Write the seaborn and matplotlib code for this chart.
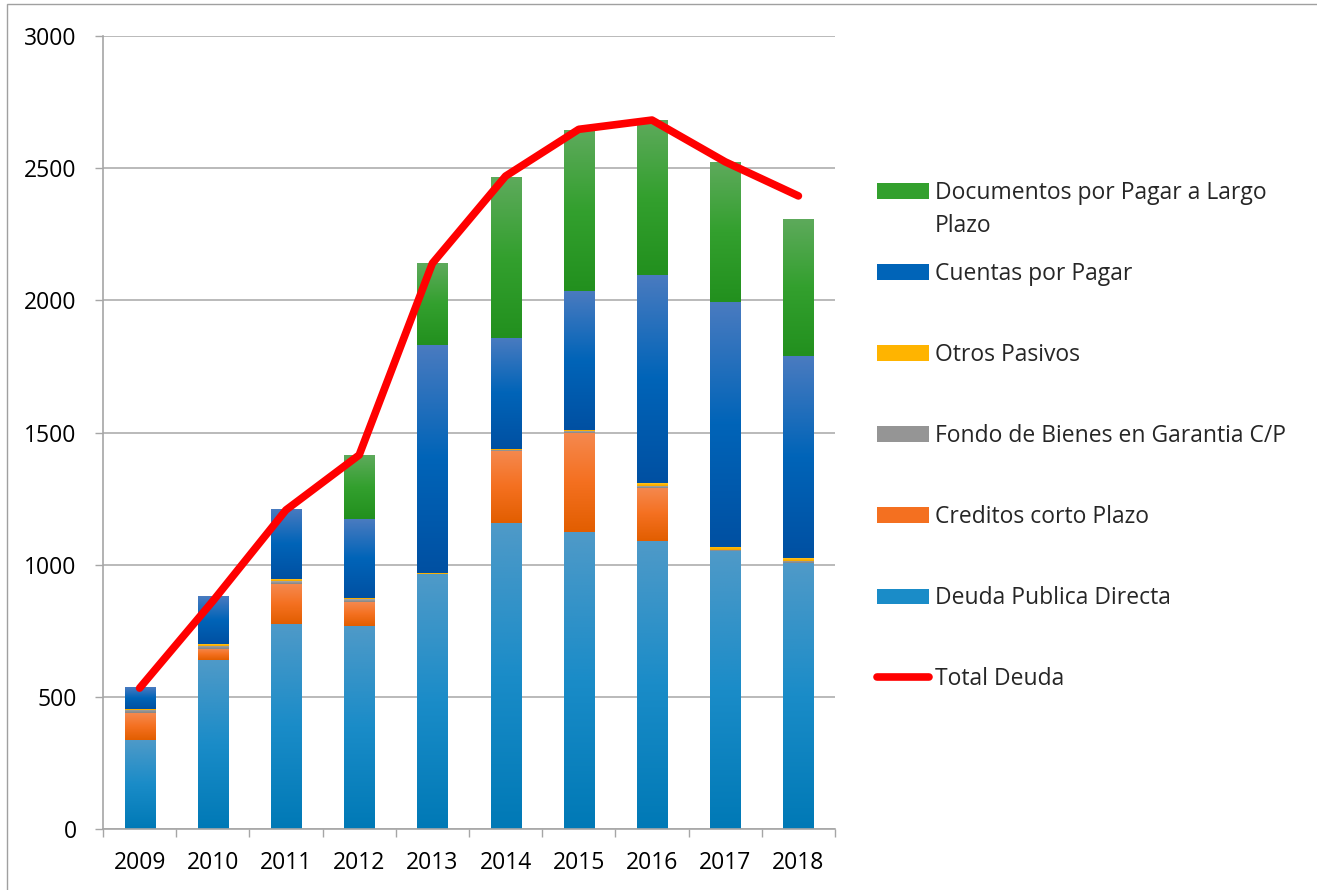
import numpy as np
import pandas as pd
import seaborn as sns
import matplotlib.pyplot as plt
from matplotlib.colors import LinearSegmentedColormap
from matplotlib.patches import Patch, Rectangle
from matplotlib.lines import Line2D

years = ['2009', '2010', '2011', '2012', '2013', '2014', '2015', '2016', '2017', '2018']
deuda_publica = [337, 639, 776, 769, 963, 1157, 1125, 1090, 1050, 1005]
creditos_cp = [100, 42, 151, 90, 0, 274, 375, 201, 0, 0]
fondo_bienes = [12, 12, 11, 11, 2, 3, 5, 6, 5, 9]
otros_pasivos = [6, 7, 7, 5, 3, 4, 6, 11, 12, 11]
cuentas_pagar = [82, 181, 266, 298, 863, 421, 524, 787, 927, 764]
documentos_lp = [0, 0, 0, 242, 310, 608, 609, 586, 528, 519]
total_deuda = [533, 862, 1207, 1415, 2140, 2470, 2647, 2682, 2524, 2395]

# stacking order bottom -> top, with (top, mid, bottom) gradient colors
series = [
    ('Deuda Publica Directa', deuda_publica, ('#4f9ac8', '#1a8cc8', '#0079b6')),
    ('Creditos corto Plazo', creditos_cp, ('#f5894f', '#f47020', '#e25e00')),
    ('Fondo de Bienes en Garantia C/P', fondo_bienes, ('#a8a8a8', '#959595', '#858585')),
    ('Otros Pasivos', otros_pasivos, ('#ffc526', '#ffb400', '#f2a600')),
    ('Cuentas por Pagar', cuentas_pagar, ('#4a7bc0', '#0064b8', '#0050a2')),
    ('Documentos por Pagar a Largo Plazo', documentos_lp, ('#5eaa5c', '#33a02e', '#22901e')),
]

FS = 16.5

sns.set_style('white')
plt.rcParams['font.family'] = ['Open Sans', 'DejaVu Sans']

fig = plt.figure(figsize=(13.17, 8.9), dpi=100)
ax = fig.add_axes([103 / 1317, 61 / 890, 732 / 1317, 793 / 890])

bottom = np.zeros(len(years))
grads = []
for name, vals, cols in series:
    n_before = len(ax.patches)
    sns.barplot(x=years, y=vals, bottom=bottom, color=cols[1], width=0.41,
                errorbar=None, ax=ax, linewidth=0, zorder=1)
    grads.append((ax.patches[n_before:], cols))
    bottom = bottom + np.array(vals)

# vertical gradient like the original bars
ramp = np.linspace(0, 1, 256).reshape(-1, 1)
for patches, cols in grads:
    cmap = LinearSegmentedColormap.from_list('g', list(cols))
    for p in patches:
        h = p.get_height()
        if h <= 0:
            continue
        x0, y0, w = p.get_x(), p.get_y(), p.get_width()
        im = ax.imshow(ramp, cmap=cmap, aspect='auto', origin='upper',
                       extent=[x0, x0 + w, y0, y0 + h], zorder=1.1,
                       interpolation='bilinear')
        im.set_clip_path(p)

sns.lineplot(x=np.arange(len(years)), y=total_deuda, color='#ff0000', lw=5.5,
             ax=ax, zorder=3, solid_capstyle='round', solid_joinstyle='round')

ax.set_xlim(-0.5, len(years) - 0.5)
ax.set_ylim(0, 3000)
ax.set_yticks(range(0, 3001, 500))
ax.set_xticks(range(len(years)))
ax.set_xticklabels(years)
ax.set_xticks(np.arange(-0.5, len(years), 1), minor=True)
ax.set_xlabel('')
ax.set_ylabel('')

ax.set_axisbelow(True)
ax.yaxis.grid(True, color='#b4b4b4', lw=1.3)
ax.xaxis.grid(False)
for s in ['top', 'right']:
    ax.spines[s].set_visible(False)
for s in ['left', 'bottom']:
    ax.spines[s].set_color('#a6a6a6')
    ax.spines[s].set_linewidth(1.2)

ax.tick_params(axis='y', which='major', left=True, direction='out', length=6,
               color='#a6a6a6', width=1, pad=13, labelsize=FS, labelcolor='black')
ax.tick_params(axis='x', which='major', length=0, pad=16, labelsize=FS, labelcolor='black')
ax.tick_params(axis='x', which='minor', bottom=True, direction='out', length=6,
               color='#a6a6a6', width=1)

# legend (top entry first as in the original)
handles = []
labels = []
for name, vals, cols in reversed(series):
    handles.append(Patch(facecolor=cols[1], edgecolor='none'))
    labels.append(name if 'Largo' not in name else 'Documentos por Pagar a Largo')
handles.append(Line2D([0], [0], color='#ff0000', lw=5.5, solid_capstyle='round'))
labels.append('Total Deuda')

leg = fig.legend(handles, labels, loc='upper left',
                 bbox_to_anchor=(877 / 1317, 1 - 181 / 890), frameon=False,
                 fontsize=FS, handlelength=2.27, handleheight=0.66,
                 handletextpad=0.26, labelspacing=2.49, borderpad=0,
                 borderaxespad=0)

# wrapped second line of the first legend label
fig.canvas.draw()
bb = leg.get_texts()[0].get_window_extent()
fig.text(bb.x0 / fig.bbox.width, (bb.y0 - 9.5) / fig.bbox.height, 'Plazo',
         ha='left', va='top', fontsize=FS)

# thin outer frame
fig.patches.append(Rectangle((7 / 1317, -0.1), 1.5, (890 - 4) / 890 + 0.1,
                             transform=fig.transFigure, fill=False,
                             edgecolor='#a0a0a0', lw=1))

fig.savefig('out.png', dpi=100)
